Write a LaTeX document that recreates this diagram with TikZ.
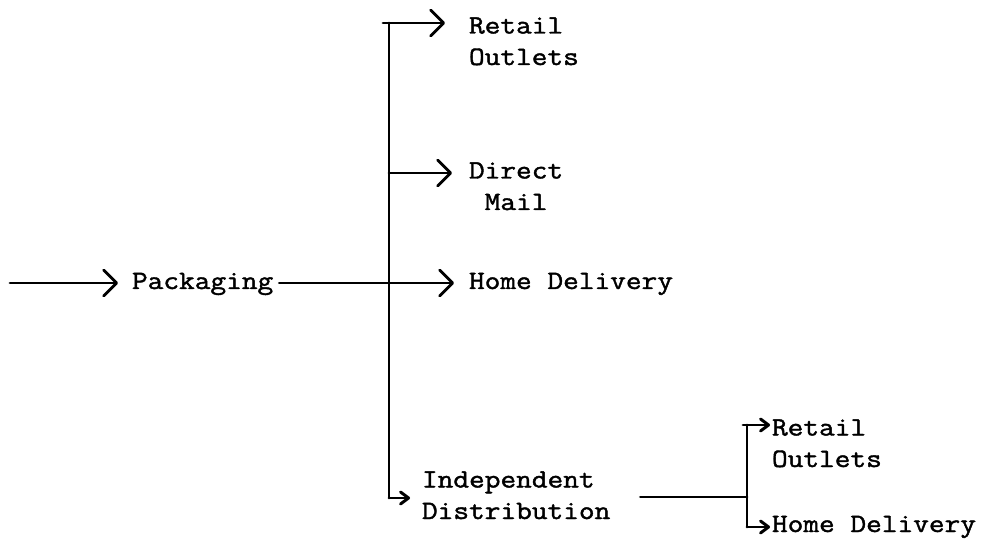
\documentclass[tikz,border=0pt]{standalone}
\usepackage{fontspec}
\newfontfamily\typefont[FakeStretch=1.15,FakeBold=1.5]{Latin Modern Mono}
\usetikzlibrary{arrows.meta,calc}

\tikzset{
  label/.style={inner sep=0pt, outer sep=0pt, anchor=base west,
    font=\typefont\fontsize{26.5}{31.5}\selectfont, align=left},
  wire/.style={line width=2.8pt, line cap=round, line join=round},
  bigarrow/.style={wire, -{Straight Barb[length=13pt,width=26pt,line width=2.8pt,round]}},
  smallarrow/.style={wire, -{Straight Barb[length=8pt,width=12pt,line width=3pt,round]}},
}

\begin{document}
\begin{tikzpicture}[x=1pt,y=-1pt]
  \useasboundingbox (0,0) rectangle (989,548);

  % labels (multi-line labels are placed by the baseline of their last line)
  \node[label] (pack) at (132,289) {Packaging};
  \node[label] (ro1)  at (469,65)  {Retail\\Outlets};
  \node[label, align=center] (dm) at (469,210) {Direct\\Mail};
  \node[label] (hd1)  at (469,289) {Home Delivery};
  \node[label] (ind)  at (422,519) {Independent\\Distribution};
  \node[label] (ro2)  at (772,467) {Retail\\Outlets};
  \node[label] (hd2)  at (772,532) {Home Delivery};

  % junction points
  \coordinate (src)  at (10,283);
  \coordinate (jtop) at (389,23);
  \coordinate (jdm)  at (389,173);
  \coordinate (jhd)  at (389,283);
  \coordinate (jbot) at (389,498);
  \coordinate (k)    at (747,497);
  \coordinate (ktop) at (747,425);
  \coordinate (kbot) at (747,527);

  % input into packaging
  \draw[bigarrow] (src) -- ($(src -| pack.west)+(-14,0)$);

  % main trunk with its branches
  \draw[wire] (jtop) -- (jbot);
  \draw[bigarrow] ($(jtop)+(-6,0)$) -- ($(jtop -| ro1.west)+(-24,0)$);
  \draw[bigarrow] (jdm) -- ($(jdm -| dm.west)+(-17,0)$);
  \draw[bigarrow] ($(pack.east |- jhd)+(6,0)$) -- ($(jhd -| hd1.west)+(-15,0)$);
  \draw[smallarrow] (jbot) -- ($(jbot -| ind.west)+(-12,0)$);

  % second split after independent distribution
  \draw[wire] ($(ind.east |- k)+(30,0)$) -- (k);
  \draw[wire] (ktop) -- (kbot);
  \draw[smallarrow] ($(ktop)+(-4,0)$) -- ($(ktop -| ro2.west)+(-2,0)$);
  \draw[smallarrow] (kbot) -- ($(kbot -| hd2.west)+(-2,0)$);
\end{tikzpicture}
\end{document}
